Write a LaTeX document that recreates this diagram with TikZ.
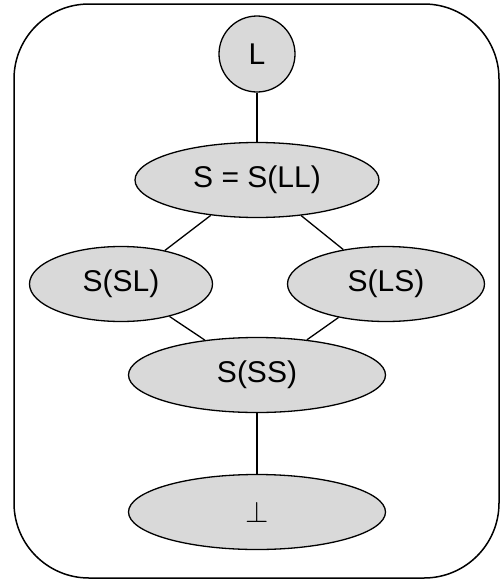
\RequirePackage{fix-cm}
\documentclass[tikz,border=0pt]{standalone}
\usepackage{fontspec}
\setmainfont{Liberation Sans}
\usetikzlibrary{shapes.geometric}
\definecolor{latticegray}{RGB}{217,217,217}

\begin{document}
\begin{tikzpicture}[x=1pt, y=1pt, line width=1.3pt,
  lat/.style={ellipse, draw, fill=latticegray, minimum height=75pt, inner sep=0pt, font=\fontsize{30}{36}\selectfont}]

 %%%  frame
 \useasboundingbox (0,0) rectangle (502,-581);
 \draw [line width=1.5pt, rounded corners=75pt] (14,-4) rectangle (499,-578);

 %%%  nodes

 % lattice nodes
 \node [circle, draw, fill=latticegray, minimum size=76pt, inner sep=0pt, font=\fontsize{30}{36}\selectfont] (l) at (257,-54) {L};
 \node [lat, minimum width=244pt, below of=l, node distance=126pt] (sll) {S = S(LL)};
 \node [lat, minimum width=183pt, below of=sll, node distance=104pt, xshift=-136pt] (ssl) {S(SL)};
 \node [lat, minimum width=197pt, below of=sll, node distance=104pt, xshift=129pt] (sls) {S(LS)};
 \node [lat, minimum width=257pt, below of=sll, node distance=195pt] (sss) {S(SS)};
 \node [lat, minimum width=257pt, below of=sss, node distance=137pt] (bot) {$\perp$};

 \draw (l) to (sll);
 \draw (sll) to (ssl);
 \draw (sll) to (sls);
 \draw (ssl) to (sss);
 \draw (sls) to (sss);
 \draw (sss) to (bot);

\end{tikzpicture}
\end{document}
